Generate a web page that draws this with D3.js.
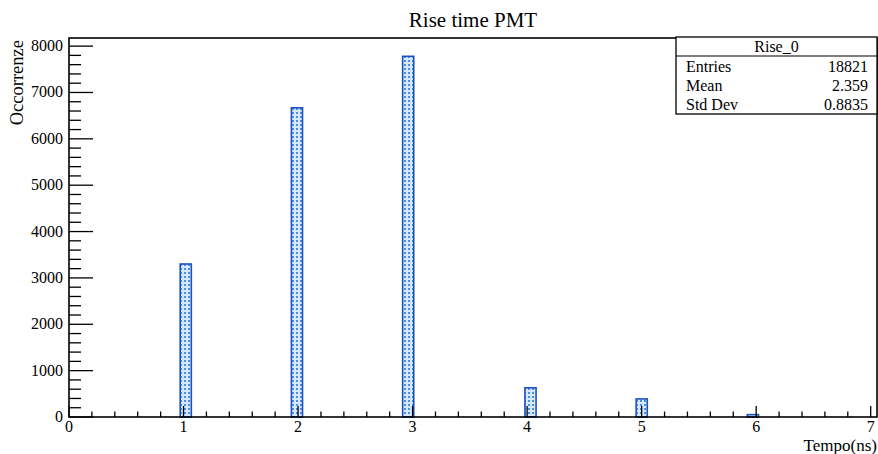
<!DOCTYPE html>
<html><head><meta charset="utf-8">
<script src="https://cdn.jsdelivr.net/npm/d3@7/dist/d3.min.js"></script>
<style>body{margin:0;background:#fff}svg{display:block;font-family:"Liberation Serif","Times New Roman",serif}</style>
</head><body><svg id="c" width="878" height="454"></svg>
<script>
// Histogram bins: lower edge (ns) and counts
const binLow = [0.971, 1.942, 2.913, 3.981, 4.952, 5.923];
const binWidth = 0.0971;
const counts = [3300, 6670, 7780, 630, 390, 51];
const xTicks = [0, 1, 2, 3, 4, 5, 6, 7];
const yTicks = [0, 1000, 2000, 3000, 4000, 5000, 6000, 7000, 8000];
const statsLabels = ["Entries", "Mean", "Std Dev"];
const statsValues = ["18821", "2.359", "0.8835"];

const svg = d3.select("#c");
const L = 69, R = 877, T = 38, B = 417;
const x = d3.scaleLinear().domain([0, 7.055]).range([L, R]);
const y = d3.scaleLinear().domain([0, 8175]).range([B, T]);

const defs = svg.append("defs");
const pat = defs.append("pattern").attr("id","dots").attr("patternUnits","userSpaceOnUse")
  .attr("width",4).attr("height",4);
pat.append("rect").attr("width",4).attr("height",4).attr("fill","#d8e8fb");
pat.append("rect").attr("x",0).attr("y",0).attr("width",2).attr("height",2).attr("fill","#4a8ee6");

// bars
svg.append("g").selectAll("rect").data(binLow).join("rect")
  .attr("x", d => x(d))
  .attr("width", d => x(d + binWidth) - x(d))
  .attr("y", (d,i) => y(counts[i]))
  .attr("height", (d,i) => y(0) - y(counts[i]))
  .attr("fill","url(#dots)").attr("stroke","#1f50c0").attr("stroke-width",1.6);

// frame
svg.append("rect").attr("x",L).attr("y",T).attr("width",R-L).attr("height",B-T)
  .attr("fill","none").attr("stroke","#000").attr("stroke-width",1.6);

// y axis ticks (inside, pointing right)
const yMinor = d3.range(0, 8175, 200);
svg.append("g").selectAll("line").data(yMinor).join("line")
  .attr("x1",L).attr("x2", d => d % 1000 === 0 ? L+24 : L+12)
  .attr("y1", d => y(d)).attr("y2", d => y(d))
  .attr("stroke","#000").attr("stroke-width",1.3);
svg.append("g").selectAll("text").data(yTicks).join("text")
  .attr("x", L-6).attr("y", d => y(d)+5).attr("text-anchor","end")
  .attr("font-size",16).text(d => d);

// x axis ticks (inside, pointing up)
const xMinor = d3.range(0, 35.5).map(i => i*0.2);
svg.append("g").selectAll("line").data(xMinor).join("line")
  .attr("x1", d => x(d)).attr("x2", d => x(d))
  .attr("y1", B).attr("y2", d => Math.abs(d - Math.round(d)) < 1e-6 ? B-11 : B-5.5)
  .attr("stroke","#000").attr("stroke-width",1.3);
svg.append("g").selectAll("text").data(xTicks).join("text")
  .attr("x", d => x(d)).attr("y", 432).attr("text-anchor","middle")
  .attr("font-size",16).text(d => d);

// titles
svg.append("text").attr("x",473).attr("y",27).attr("text-anchor","middle")
  .attr("font-size",21).text("Rise time PMT");
svg.append("text").attr("transform","translate(23,40) rotate(-90)").attr("text-anchor","end")
  .attr("font-size",18.5).text("Occorrenze");
svg.append("text").attr("x",877).attr("y",451).attr("text-anchor","end")
  .attr("font-size",17).text("Tempo(ns)");

// stats box
const sx = 676, sy = 37, sw = 201, sh = 77;
svg.append("rect").attr("x",sx).attr("y",sy).attr("width",sw).attr("height",sh)
  .attr("fill","#fff").attr("stroke","#000").attr("stroke-width",1.3);
svg.append("line").attr("x1",sx).attr("x2",sx+sw).attr("y1",sy+19).attr("y2",sy+19)
  .attr("stroke","#000").attr("stroke-width",1.1);
svg.append("text").attr("x",sx+sw/2).attr("y",sy+15).attr("text-anchor","middle")
  .attr("font-size",16).text("Rise_0");
const rowY = [72, 91, 110];
svg.append("g").selectAll("text").data(statsLabels).join("text")
  .attr("x",sx+10).attr("y",(d,i)=>rowY[i]).attr("font-size",16).text(d=>d);
svg.append("g").selectAll("text").data(statsValues).join("text")
  .attr("x",sx+sw-9).attr("y",(d,i)=>rowY[i]).attr("text-anchor","end").attr("font-size",16).text(d=>d);
</script></body></html>
